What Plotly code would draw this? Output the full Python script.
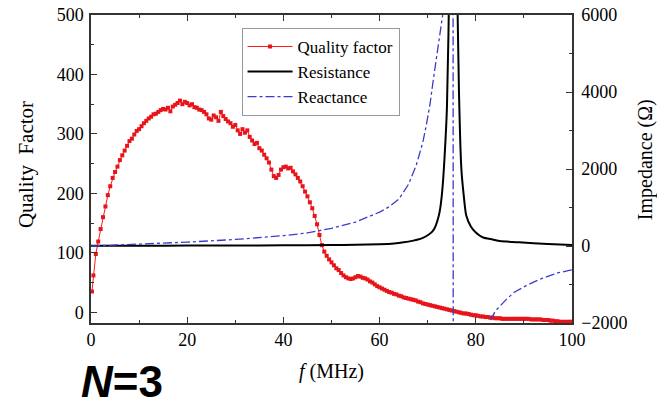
import plotly.graph_objects as go

# ---------------- data ----------------
freq_q = [0.2, 0.5, 1.0, 1.5, 2.0, 2.5, 3.0, 3.5, 4.0, 4.5, 5.0, 5.5, 6.0, 6.5, 7.0, 7.5,
          8.0, 8.5, 9.0, 9.5, 10.0, 10.5, 11.0, 11.5, 12.0, 12.5, 13.0, 13.5, 14.0, 14.5,
          15.0, 15.5, 16.0, 16.5, 17.0, 17.5, 18.0, 18.5, 19.0, 19.5, 20.0, 20.5, 21.0, 21.5,
          22.0, 22.5, 23.0, 23.5, 24.0, 24.5, 25.0, 25.5, 26.0, 26.5, 27.0, 27.5, 28.0, 28.5,
          29.0, 29.5, 30.0, 30.5, 31.0, 31.5, 32.0, 32.5, 33.0, 33.5, 34.0, 34.5, 35.0, 35.5,
          36.0, 36.5, 37.0, 37.5, 38.0, 38.5, 39.0, 39.5, 40.0, 40.5, 41.0, 41.5, 42.0, 42.5,
          43.0, 43.5, 44.0, 44.5, 45.0, 45.5, 46.0, 46.5, 47.0, 47.5, 48.0, 48.5, 49.0, 49.5,
          50.0, 50.5, 51.0, 51.5, 52.0, 52.5, 53.0, 53.5, 54.0, 54.5, 55.0, 55.5, 56.0, 56.5,
          57.0, 57.5, 58.0, 58.5, 59.0, 59.5, 60.0, 60.5, 61.0, 61.5, 62.0, 62.5, 63.0, 63.5,
          64.0, 64.5, 65.0, 65.5, 66.0, 66.5, 67.0, 67.5, 68.0, 68.5, 69.0, 69.5, 70.0, 70.5,
          71.0, 71.5, 72.0, 72.5, 73.0, 73.5, 74.0, 74.5, 75.0, 75.5, 76.0, 76.5, 77.0, 77.5,
          78.0, 78.5, 79.0, 79.5, 80.0, 80.5, 81.0, 81.5, 82.0, 82.5, 83.0, 83.5, 84.0, 84.5,
          85.0, 85.5, 86.0, 86.5, 87.0, 87.5, 88.0, 88.5, 89.0, 89.5, 90.0, 90.5, 91.0, 91.5,
          92.0, 92.5, 93.0, 93.5, 94.0, 94.5, 95.0, 95.5, 96.0, 96.5, 97.0, 97.5, 98.0, 98.5,
          99.0, 99.5, 100.0]
quality_factor = [35, 62, 98, 119, 140, 160, 178, 197, 212, 226, 236, 245, 256, 264, 272, 280,
                  288, 292, 299, 305, 308, 313, 318, 322, 326, 329, 333, 334, 337, 340,
                  342, 341, 344, 338, 346, 349, 352, 356, 350, 354, 352, 348, 350, 345,
                  344, 341, 340, 337, 333, 326, 324, 331, 328, 322, 337, 330, 325, 321,
                  318, 312, 315, 306, 300, 308, 302, 306, 295, 289, 283, 285, 276, 272,
                  265, 259, 252, 240, 229, 226, 231, 240, 244, 245, 242, 243, 237, 232,
                  226, 220, 212, 203, 195, 185, 175, 162, 148, 130, 113, 102, 95, 89,
                  84, 79, 74, 71, 66, 62, 59, 57, 56, 57, 59, 61, 60, 58,
                  57, 55, 52, 50, 47, 44, 42, 40, 38, 36, 34, 33, 31, 30,
                  28, 27, 25, 24, 23, 22, 21, 20, 18, 17, 15, 14, 13, 12,
                  11, 10, 9, 8, 7, 6, 5, 4, 3, 2, 1, 0, -1, -2,
                  -2, -3, -4, -5, -5, -6, -7, -7, -8, -8, -9, -9, -10, -10,
                  -10, -11, -11, -11, -11, -11, -11, -11, -11, -11, -11, -11, -11, -12,
                  -12, -12, -12, -12, -13, -13, -13, -14, -14, -15, -15, -16, -16, -16,
                  -16, -16, -16]

freq_r = [0, 10, 20, 30, 40, 50, 55, 60, 63, 65, 67, 68, 69, 70, 71, 71.5, 72, 72.5, 73,
          73.5, 74, 74.5, 75, 75.3, 75.6, 76, 76.5, 77, 77.5, 78, 79, 80, 81.5, 83.5, 85,
          89, 95, 100]
resistance = [5, 8, 10, 13, 17, 25, 32, 45, 65, 95, 140, 170, 210, 280, 380, 480, 650, 900,
              1400, 2300, 3600, 7000, 15000, 25000, 15000, 8000, 4000, 2000, 1300, 800, 500,
              350, 220, 170, 130, 95, 55, 25]

freq_x = [0, 5, 10, 20, 30, 40, 45, 50, 55, 60, 62, 64, 66, 67.6, 69, 69.7, 70.5, 71.1, 72.1,
          73.1, 74, 74.8, 75.2, 75.4, 76, 78, 80, 82, 83, 84, 86.4, 88, 90.5, 93, 95.4, 97,
          99.2, 100]
reactance = [0, 20, 50, 100, 170, 268, 340, 460, 620, 880, 1020, 1220, 1600, 2090, 2700,
             3130, 3700, 4260, 5120, 5990, 8000, 15000, 30000, -30000, -15000, -6000, -3500,
             -2400, -1950, -1700, -1380, -1200, -1030, -880, -770, -700, -640, -620]

x_ticks = [0, 20, 40, 60, 80, 100]
q_ticks = [0, 100, 200, 300, 400, 500]
z_ticks = [-2000, 0, 2000, 4000, 6000]

# ---------------- figure ----------------
SERIF = "Liberation Serif, Times New Roman, serif"
AXC = "#333333"

fig = go.Figure()
fig.add_trace(go.Scatter(
    x=freq_q, y=quality_factor, name="Quality factor", mode="lines+markers",
    line=dict(color="#ff1a1a", width=1),
    marker=dict(symbol="square", size=4, color="#e8141a"),
    yaxis="y"))
fig.add_trace(go.Scatter(
    x=freq_r, y=resistance, name="Resistance", mode="lines",
    line=dict(color="black", width=2, shape="spline", smoothing=0.6),
    yaxis="y2"))
fig.add_trace(go.Scatter(
    x=freq_x, y=reactance, name="Reactance", mode="lines",
    line=dict(color="#3b3bcc", width=1.3, dash="dashdot"),
    yaxis="y2"))

tickfont = dict(family=SERIF, size=18, color="black")

fig.update_layout(
    template="none",
    width=657, height=405,
    margin=dict(l=91, r=85, t=15, b=82, autoexpand=False),
    paper_bgcolor="white", plot_bgcolor="white",
    showlegend=True,
    legend=dict(x=0.313, y=0.958, xanchor="left", yanchor="top",
                bgcolor="white", bordercolor="#999999", borderwidth=1,
                font=dict(family=SERIF, size=17, color="black"),
                itemwidth=45, tracegroupgap=0),
    xaxis=dict(range=[0, 100], tickvals=x_ticks, ticks="inside", ticklen=6, tickwidth=1.2,
               tickcolor=AXC, showline=True, linecolor=AXC, linewidth=1.5, mirror="ticks",
               showgrid=False, zeroline=False, tickfont=tickfont, ticklabelstandoff=0,
               automargin=False,
               minor=dict(dtick=10, ticks="inside", ticklen=3, tickcolor=AXC, showgrid=False)),
    yaxis=dict(range=[-18, 500], tickvals=q_ticks, ticks="inside", ticklen=6, tickwidth=1.2,
               tickcolor=AXC, showline=True, linecolor=AXC, linewidth=1.5,
               showgrid=False, zeroline=False, tickfont=tickfont, ticklabelstandoff=2,
               automargin=False,
               minor=dict(dtick=50, ticks="inside", ticklen=3, tickcolor=AXC, showgrid=False)),
    yaxis2=dict(range=[-2000, 6000], tickvals=z_ticks, overlaying="y", side="right",
                ticks="inside", ticklen=6, tickwidth=1.2, tickcolor=AXC, showline=True,
                linecolor=AXC, linewidth=1.5, showgrid=False, zeroline=False,
                tickfont=tickfont, ticklabelstandoff=4, automargin=False,
                minor=dict(dtick=1000, ticks="inside", ticklen=3, tickcolor=AXC, showgrid=False)),
)

fig.add_annotation(text="<i>f</i> (MHz)", xref="paper", yref="paper", x=0.5, y=-0.156,
                   xanchor="center", yanchor="middle", showarrow=False,
                   font=dict(family=SERIF, size=20, color="black"))
fig.add_annotation(text="Quality  Factor", xref="paper", yref="paper", x=-0.135, y=0.513,
                   xanchor="center", yanchor="middle", showarrow=False, textangle=-90,
                   font=dict(family=SERIF, size=21, color="black"))
fig.add_annotation(text="Impedance (Ω)", xref="paper", yref="paper", x=1.152, y=0.529,
                   xanchor="center", yanchor="middle", showarrow=False, textangle=-90,
                   font=dict(family=SERIF, size=20, color="black"))
fig.add_annotation(text="<b><i>N</i>=3</b>", xref="paper", yref="paper", x=-0.024, y=-0.276,
                   xanchor="left", yanchor="bottom", showarrow=False,
                   font=dict(family="Liberation Sans, Arial, sans-serif", size=44, color="black"))

fig.write_html("out.html", post_script="document.body.style.margin='0';",
               config={"displayModeBar": False})
